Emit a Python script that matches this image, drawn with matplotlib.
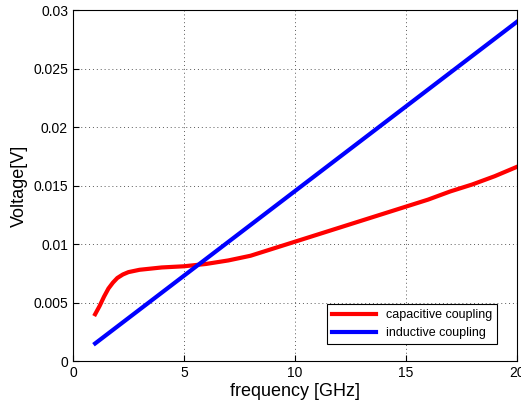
import numpy as np
import matplotlib
matplotlib.use("Agg")
import matplotlib.pyplot as plt

plt.rcParams['font.family'] = ['Liberation Sans', 'DejaVu Sans']

# values
freq_cap = [1, 1.2, 1.4, 1.6, 1.8, 2, 2.25, 2.5, 2.75, 3, 3.5, 4, 5, 6, 7,
            8, 9, 10, 11, 12, 13, 14, 15, 16, 17, 18, 19, 20]
v_cap = [0.0040, 0.0047, 0.0055, 0.0062, 0.0067, 0.0071, 0.0074, 0.0076,
         0.0077, 0.0078, 0.0079, 0.0080, 0.0081, 0.0083, 0.0086, 0.0090,
         0.0096, 0.0102, 0.0108, 0.0114, 0.0120, 0.0126, 0.0132, 0.0138,
         0.0145, 0.0151, 0.0158, 0.0166]
freq_ind = [1, 20]
v_ind = [0.0015, 0.0290]

xticks = [0, 5, 10, 15, 20]
yticks = [0, 0.005, 0.01, 0.015, 0.02, 0.025, 0.03]
ytick_labels = ['0', '0.005', '0.01', '0.015', '0.02', '0.025', '0.03']

fig = plt.figure(figsize=(5.21, 4.07), dpi=100)
ax = fig.add_axes([0.140, 0.113, 0.852, 0.862])

ax.plot(freq_cap, v_cap, color='#ff0000', lw=3, solid_joinstyle='round',
        label='capacitive coupling')
ax.plot(freq_ind, v_ind, color='#0000ff', lw=3, label='inductive coupling')

ax.set_xlim(0, 20)
ax.set_ylim(0, 0.03)
ax.set_xticks(xticks)
ax.set_yticks(yticks)
ax.set_yticklabels(ytick_labels)
ax.tick_params(direction='in', labelsize=10, length=4)
ax.grid(True, linestyle=(0, (1, 3)), color='0.35', linewidth=0.7)

ax.set_xlabel('frequency [GHz]', fontsize=13, labelpad=2)
ax.set_ylabel('Voltage[V]', fontsize=13, labelpad=4)

leg = ax.legend(loc='lower right', bbox_to_anchor=(0.955, 0.048),
                fontsize=9, fancybox=False, framealpha=1,
                edgecolor='black', handlelength=3.5, borderaxespad=0)
leg.get_frame().set_linewidth(0.8)

fig.savefig('out.png', dpi=100)
